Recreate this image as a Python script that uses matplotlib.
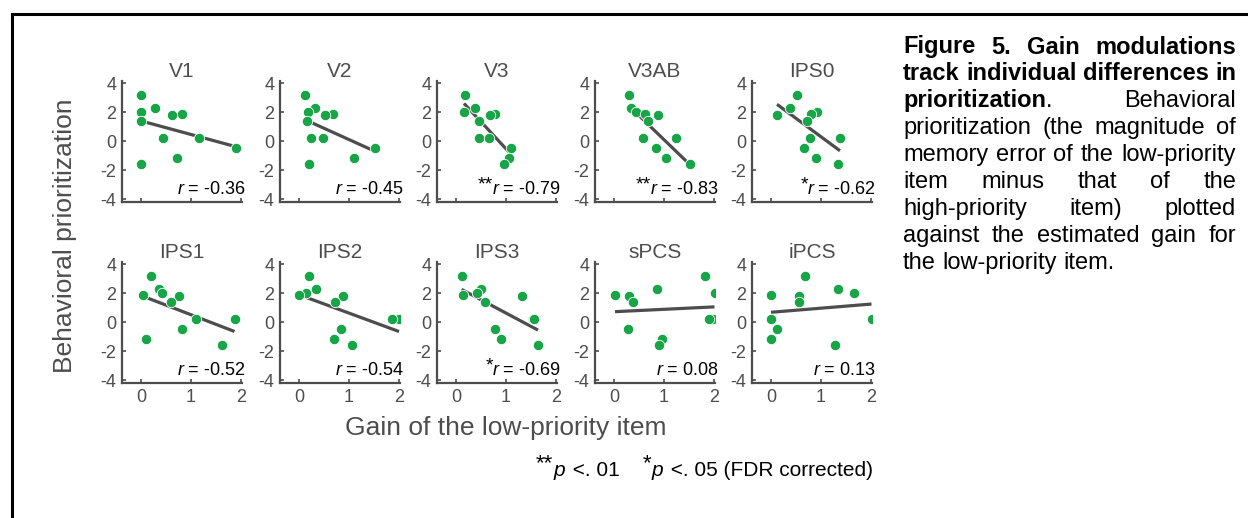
import numpy as np
import matplotlib
matplotlib.use('Agg')
from matplotlib import pyplot as plt
from matplotlib.lines import Line2D

plt.rcParams['font.family'] = ['Liberation Sans', 'DejaVu Sans']
plt.rcParams['mathtext.fontset'] = 'custom'
plt.rcParams['mathtext.rm'] = 'Liberation Sans'
plt.rcParams['mathtext.it'] = 'Liberation Sans:italic'
plt.rcParams['axes.unicode_minus'] = False

# behavioral prioritization, one value per subject (same in every panel)
prior = [3.2, 2.3, 2.0, 1.85, 1.8, 1.4, 0.25, 0.2, -0.45, -1.15, -1.6]

regions = ['V1', 'V2', 'V3', 'V3AB', 'IPS0', 'IPS1', 'IPS2', 'IPS3', 'sPCS', 'iPCS']
gains = {
    'V1':   [0.00, 0.28, 0.00, 0.81, 0.62, 0.00, 0.44, 1.16, 1.90, 0.72, 0.00],
    'V2':   [0.11, 0.31, 0.18, 0.68, 0.52, 0.16, 0.47, 0.24, 1.52, 1.10, 0.19],
    'V3':   [0.18, 0.37, 0.16, 0.78, 0.67, 0.45, 0.45, 0.65, 1.10, 1.05, 0.95],
    'V3AB': [0.29, 0.33, 0.43, 0.61, 0.87, 0.67, 0.57, 1.24, 0.84, 1.03, 1.51],
    'IPS0': [0.51, 0.38, 0.91, 0.79, 0.12, 0.71, 0.77, 1.38, 0.65, 0.90, 1.33],
    'IPS1': [0.20, 0.36, 0.41, 0.04, 0.75, 0.59, 1.87, 1.10, 0.81, 0.10, 1.62],
    'IPS2': [0.20, 0.34, 0.13, 0.00, 0.88, 0.71, 2.00, 1.85, 0.83, 0.69, 1.05],
    'IPS3': [0.11, 0.49, 0.41, 0.13, 1.31, 0.57, 1.53, 1.55, 0.78, 0.89, 1.64],
    'sPCS': [1.81, 0.86, 2.01, 0.02, 0.30, 0.38, 1.97, 1.89, 0.28, 0.96, 0.90],
    'iPCS': [0.68, 1.34, 1.65, 0.00, 0.56, 0.55, 2.01, 0.00, 0.12, 0.00, 1.27],
}
r_vals = ['-0.36', '-0.45', '-0.79', '-0.83', '-0.62', '-0.52', '-0.54', '-0.69', '0.08', '0.13']
stars = ['', '', '**', '**', '*', '', '', '*', '', '']

caption_bold = 'Figure 5. Gain modulations track individual differences in prioritization'
caption_lines = [
    'Figure 5. Gain modulations',
    'track individual differences in',
    'prioritization. Behavioral',
    'prioritization (the magnitude of',
    'memory error of the low-priority',
    'item minus that of the',
    'high-priority item) plotted',
    'against the estimated gain for',
    'the low-priority item.',
]

W, H = 1248, 518
fig = plt.figure(figsize=(W / 100, H / 100), dpi=100)
rend = fig.canvas.get_renderer()
gray = '#4d4d4d'
green = '#17a548'

col_left = [122, 280, 437, 595, 752]
row_top = [81, 262]
aw, ah = 120, 121

for i, reg in enumerate(regions):
    row, col = divmod(i, 5)
    ax = fig.add_axes([col_left[col] / W, 1 - (row_top[row] + ah) / H, aw / W, ah / H])
    x = np.array(gains[reg])
    y = np.array(prior)
    k, b = np.polyfit(x, y, 1)
    xs = np.array([x.min(), x.max()])
    ax.plot(xs, k * xs + b, color=gray, lw=2.3, zorder=2, solid_capstyle='butt')
    ax.scatter(x, y, s=56, color=green, edgecolors='white', linewidths=0.6, zorder=3)
    ax.set_xlim(-0.38, 2.02)
    ax.set_ylim(-4.2, 4.15)
    ax.set_xticks([0, 1, 2])
    ax.set_yticks([-4, -2, 0, 2, 4])
    for s in ['top', 'right']:
        ax.spines[s].set_visible(False)
    for s in ['left', 'bottom']:
        ax.spines[s].set_color(gray)
        ax.spines[s].set_linewidth(1.6)
    ax.tick_params(direction='in', length=3, width=1.2, color=gray,
                   labelcolor=gray, labelsize=13, pad=4)
    if row == 0:
        ax.tick_params(axis='x', labelbottom=False)
    ax.set_title(reg, fontsize=15, color=gray, pad=3)
    t = ax.text(1.03, 0.1, r'$\mathit{r}$ = ' + r_vals[i], transform=ax.transAxes,
                ha='right', va='center', fontsize=13, color='black')
    if stars[i]:
        bb = t.get_window_extent(rend)
        fig.text((bb.x0 + 1) / W, (bb.y0 + 5) / H, stars[i], ha='right', va='bottom',
                 fontsize=14, color='black')

fig.text(65 / W, 1 - 236 / H, 'Behavioral prioritization', rotation=90,
         ha='center', va='center', fontsize=19, color=gray)
fig.text(506 / W, 1 - 428 / H, 'Gain of the low-priority item',
         ha='center', va='center', fontsize=19, color=gray)

# significance key, built piece by piece so the stars sit raised
key = [('**', 7, 'normal'), (r'$\mathit{p}$', 0, 'normal'), (' <. 01    ', 0, 'normal'),
       ('*', 7, 'normal'), (r'$\mathit{p}$', 0, 'normal'), (' <. 05 (FDR corrected)', 0, 'normal')]
kx = 536
for s, lift, _ in key:
    kt = fig.text(kx / W, (H - 476 + lift) / H, s, ha='left', va='baseline',
                  fontsize=16 if lift else 15, color='black')
    kx += kt.get_window_extent(rend).width

# justified caption
cap_fs = 17
x0, x1 = 903, 1236
space = cap_fs * 100 / 72 * 0.278
pos = 0
for li, line in enumerate(caption_lines):
    yc = 47 + 27 * li
    items = []
    for word in line.split(' '):
        pieces = []
        for ch in word:
            wt = 'bold' if pos < len(caption_bold) else 'normal'
            if pieces and pieces[-1][1] == wt:
                pieces[-1][0] += ch
            else:
                pieces.append([ch, wt])
            pos += 1
        pos += 1
        ts = [fig.text(0, 0, s, fontsize=cap_fs, fontweight=wt, va='center', ha='left')
              for s, wt in pieces]
        ws = [tt.get_window_extent(rend).width for tt in ts]
        items.append((ts, ws))
    total = sum(sum(ws) for ts, ws in items)
    last = li == len(caption_lines) - 1
    gap = space if last else (x1 - x0 - total) / (len(items) - 1)
    xx = x0
    for ts, ws in items:
        for tt, w in zip(ts, ws):
            tt.set_position((xx / W, 1 - yc / H))
            xx += w
        xx += gap

# frame
fig.add_artist(Line2D([12 / W, 1.0], [1 - 13.5 / H, 1 - 13.5 / H], color='black', lw=2.2))
fig.add_artist(Line2D([12 / W, 12 / W], [0, 1 - 13.5 / H], color='black', lw=2.2))

fig.savefig('out.png', dpi=100)
